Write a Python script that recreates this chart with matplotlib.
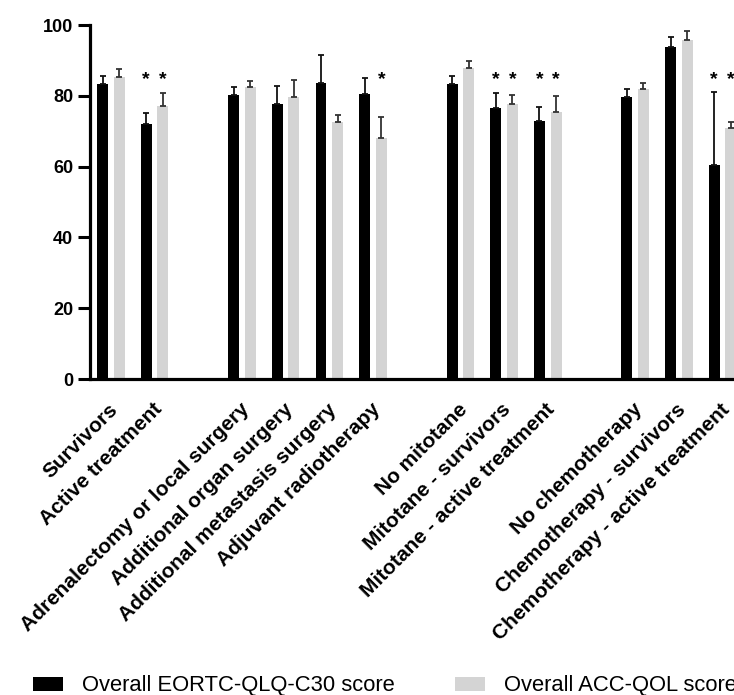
import matplotlib
matplotlib.use("Agg")
import matplotlib.pyplot as plt
from matplotlib.patches import Patch

plt.rcParams['font.family'] = ['Liberation Sans', 'DejaVu Sans']

# ---- data ----
groups = [
    ["Survivors", "Active treatment"],
    ["Adrenalectomy or local surgery", "Additional organ surgery",
     "Additional metastasis surgery", "Adjuvant radiotherapy"],
    ["No mitotane", "Mitotane - survivors", "Mitotane - active treatment"],
    ["No chemotherapy", "Chemotherapy - survivors", "Chemotherapy - active treatment"],
]
eortc = [83.2, 72.0, 80.3, 77.6, 83.5, 80.6, 83.3, 76.5, 73.0, 79.7, 93.9, 60.5]
eortc_err = [2.5, 3.2, 2.2, 5.1, 8.0, 4.4, 2.3, 4.2, 3.9, 2.1, 2.8, 20.5]
acc = [85.4, 77.1, 82.4, 79.7, 72.7, 68.2, 87.9, 77.7, 75.5, 81.8, 95.9, 70.8]
acc_err = [2.2, 3.7, 1.9, 4.8, 2.0, 5.8, 2.0, 2.5, 4.5, 1.7, 2.5, 1.9]
sig_eortc = [False, True, False, False, False, False, False, True, True, False, False, True]
sig_acc = [False, True, False, False, False, True, False, True, True, False, False, True]
yticks = [0, 20, 40, 60, 80, 100]
series_names = ["Overall EORTC-QLQ-C30 score", "Overall ACC-QOL score"]

# ---- layout ----
labels = []
positions = []
slot = 0
for g in groups:
    for name in g:
        labels.append(name)
        positions.append(slot)
        slot += 1
    slot += 1  # empty slot between groups

W, H = 734, 695
fig = plt.figure(figsize=(W / 100, H / 100), dpi=100)
ax_left = 90 / W
ax_bottom = (H - 379) / H
ax_top = (H - 25) / H
xmin, xmax = -0.478, 14.478
px_per_unit = 43.69
ax = fig.add_axes([ax_left, ax_bottom, (xmax - xmin) * px_per_unit / W, ax_top - ax_bottom])

off = 0.19
bw = 0.25
black = "#000000"
gray = "#d4d4d4"
xb = [p - off for p in positions]
xg = [p + off for p in positions]
ax.bar(xb, eortc, width=bw, color=black, zorder=2)
ax.bar(xg, acc, width=bw, color=gray, zorder=2)
ax.errorbar(xb, eortc, yerr=[[0] * len(eortc), eortc_err], fmt='none',
            ecolor='#111111', elinewidth=1.3, capsize=2.2, capthick=1.3, zorder=3)
ax.errorbar(xg, acc, yerr=[[0] * len(acc), acc_err], fmt='none',
            ecolor='#333333', elinewidth=1.3, capsize=2.2, capthick=1.3, zorder=3)

star_y = 84.5
for x, s in zip(xb, sig_eortc):
    if s:
        ax.text(x, star_y, "*", ha='center', va='center', fontsize=14, fontweight='bold')
for x, s in zip(xg, sig_acc):
    if s:
        ax.text(x, star_y, "*", ha='center', va='center', fontsize=14, fontweight='bold')

ax.set_xlim(xmin, xmax)
ax.set_ylim(0, 100)
ax.set_yticks(yticks)
ax.set_yticklabels([str(t) for t in yticks], fontsize=13, fontweight='bold')
label_shift = 0.06  # labels sit slightly left of the bar-pair centre
ax.set_xticks([p - label_shift for p in positions])
ax.set_xticklabels(labels, rotation=45, ha='right', va='top', rotation_mode='anchor',
                   fontsize=15, fontweight='bold')
ax.tick_params(axis='y', length=8.6, width=2.2, pad=3.6)
ax.tick_params(axis='x', length=0, pad=15)
for side in ['top', 'right']:
    ax.spines[side].set_visible(False)
for side in ['left', 'bottom']:
    ax.spines[side].set_linewidth(2.3)

handles = [Patch(facecolor=black), Patch(facecolor=gray)]
fig.legend(handles, series_names, loc='center left', bbox_to_anchor=(33 / W, (H - 686) / H),
           ncol=2, frameon=False, fontsize=15.8, handlelength=1.36, handleheight=0.64,
           handletextpad=0.86, columnspacing=2.77, borderaxespad=0, borderpad=0)

fig.savefig("out.png", dpi=100)
